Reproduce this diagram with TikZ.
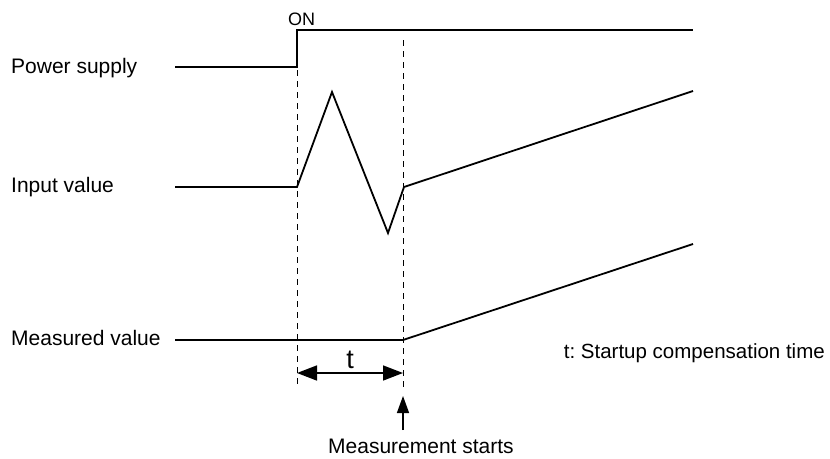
\documentclass[tikz,border=0pt]{standalone}
\usepackage{fontspec}
\setmainfont{Liberation Sans}
\usetikzlibrary{arrows.meta}
\frenchspacing
\begin{document}
\begin{tikzpicture}[x=1pt,y=-1pt,
  lbl/.style={inner sep=0pt,font=\fontsize{21}{24}\selectfont},
  sig/.style={line width=1.8pt,line join=miter},
  guide/.style={line width=0.9pt,dash pattern=on 6pt off 5pt},
  dimarrow/.style={line width=1.6pt,{Triangle[length=20pt,width=15pt]}-{Triangle[length=20pt,width=15pt]}},
  uparrow/.style={line width=1.4pt,-{Triangle[length=17pt,width=12pt]}}]
\useasboundingbox (0,0) rectangle (830,458);
% labels
\node[lbl,anchor=base west] (lps) at (11,73) {Power supply};
\node[lbl,anchor=base west] (liv) at (11,192) {Input value};
\node[lbl,anchor=base west] (lmv) at (11,345) {Measured value};
\node[inner sep=0pt,anchor=base west,font=\fontsize{18}{20}\selectfont] (on) at (288,25) {ON};
% coordinates
\coordinate (p0) at (175,67);
\coordinate (p1) at (297,67);
\coordinate (p2) at (297,30);
\coordinate (p3) at (693,30);
\coordinate (i0) at (175,187);
\coordinate (i1) at (297,187);
\coordinate (i2) at (332,92);
\coordinate (i3) at (388,233);
\coordinate (i4) at (404,187);
\coordinate (i5) at (693,91);
\coordinate (m0) at (175,340);
\coordinate (m1) at (403,340);
\coordinate (m2) at (693,244);
% signals
\draw[sig] (p0) -- (p1) -- (p2) -- (p3);
\draw[sig] (i0) -- (i1) -- (i2) -- (i3) -- (i4) -- (i5);
\draw[sig] (m0) -- (m1) -- (m2);
% guides
\coordinate (g1t) at (297,70);
\coordinate (g1b) at (297,388);
\coordinate (g2t) at (403,40);
\coordinate (g2b) at (403,388);
\draw[guide] (g1t) -- (g1b);
\draw[guide] (g2t) -- (g2b);
% dimension
\coordinate (d1) at (297,373);
\coordinate (d2) at (403,373);
\draw[dimarrow] (d1) -- node[above=3pt,inner sep=0pt,font=\fontsize{27}{30}\selectfont] (t) {t} (d2);
% measurement start arrow
\coordinate (a0) at (403,430);
\coordinate (a1) at (403,396);
\draw[uparrow] (a0) -- (a1);
\node[lbl,anchor=base west] (ms) at (328,453) {Measurement starts};
\node[inner sep=0pt,anchor=base east,font=\fontsize{20.5}{24}\selectfont] (tl) at (825,358) {t: Startup compensation time};
\end{tikzpicture}
\end{document}
